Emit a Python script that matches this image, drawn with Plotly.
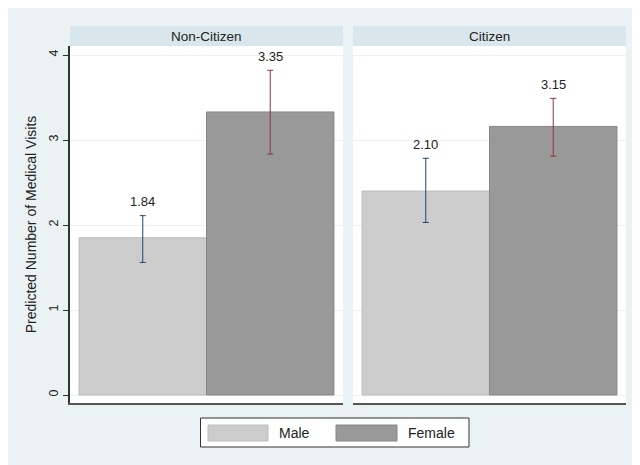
import plotly.graph_objects as go

groups = ["Non-Citizen", "Citizen"]
sexes = ["Male", "Female"]
male_pred = [1.85, 2.40]
female_pred = [3.33, 3.16]
male_lo = [1.56, 2.03]
male_hi = [2.11, 2.785]
female_lo = [2.835, 2.81]
female_hi = [3.82, 3.49]
male_labels = ["1.84", "2.10"]
female_labels = ["3.35", "3.15"]
y_ticks = [0, 1, 2, 3, 4]

BG = "#eaf2f3"
STRIP = "#d9e6eb"
MALE_FILL = "#cccccc"
MALE_EDGE = "#bdbdbd"
FEMALE_FILL = "#999999"
FEMALE_EDGE = "#868686"
MALE_ERR = "#1a476f"
FEMALE_ERR = "#90353b"
FONT = "Liberation Sans, Arial, sans-serif"

fig = go.Figure()
annotations = []
for i, g in enumerate(groups):
    xa = "x" if i == 0 else "x2"
    ya = "y" if i == 0 else "y2"
    for sex, pred, lo, hi, lab, fill, edge, ecol in [
        (sexes[0], male_pred, male_lo, male_hi, male_labels, MALE_FILL, MALE_EDGE, MALE_ERR),
        (sexes[1], female_pred, female_lo, female_hi, female_labels, FEMALE_FILL, FEMALE_EDGE, FEMALE_ERR),
    ]:
        fig.add_trace(go.Bar(
            x=[sex], y=[pred[i]], width=[1.0],
            marker=dict(color=fill, line=dict(color=edge, width=1)),
            error_y=dict(type="data", symmetric=False,
                         array=[hi[i] - pred[i]], arrayminus=[pred[i] - lo[i]],
                         color=ecol, thickness=1, width=3),
            xaxis=xa, yaxis=ya, showlegend=False, name=sex,
        ))
        annotations.append(dict(
            x=sex, y=hi[i], xref=xa, yref=ya, text=lab[i], showarrow=False,
            yshift=14, font=dict(family=FONT, size=13, color="#222222"),
        ))

# Panel strips
dom1 = [0, 273 / 556]
dom2 = [283 / 556, 1]
ytop = 357 / 377
shapes = []
for g, dom in zip(groups, [dom1, dom2]):
    shapes.append(dict(type="rect", xref="paper", yref="paper",
                       x0=dom[0], x1=dom[1], y0=ytop, y1=1,
                       fillcolor=STRIP, line=dict(width=0)))
    annotations.append(dict(x=(dom[0] + dom[1]) / 2, y=(ytop + 1) / 2,
                            xref="paper", yref="paper", text=g, showarrow=False,
                            font=dict(family=FONT, size=13.5, color="#222222"),
                            xanchor="center", yanchor="middle"))

# Manual legend (paper coordinates relative to plot area: x 70..626, y 26..403)
def px_x(px):
    return (px - 70) / 556

def px_y(py):
    return (403 - py) / 377

shapes.append(dict(type="rect", xref="paper", yref="paper",
                   x0=px_x(200.5), x1=px_x(469), y0=px_y(447), y1=px_y(418),
                   fillcolor="white", line=dict(color="#333333", width=1)))
for sex, x0, x1, fill, edge, tx in [
    (sexes[0], 208, 268, MALE_FILL, MALE_EDGE, 277),
    (sexes[1], 336, 397, FEMALE_FILL, FEMALE_EDGE, 406),
]:
    shapes.append(dict(type="rect", xref="paper", yref="paper",
                       x0=px_x(x0), x1=px_x(x1), y0=px_y(441), y1=px_y(425),
                       fillcolor=fill, line=dict(color=edge, width=1)))
    annotations.append(dict(x=px_x(tx), y=px_y(433), xref="paper", yref="paper",
                            text=sex, showarrow=False, xanchor="left", yanchor="middle",
                            font=dict(family=FONT, size=14, color="#222222")))

yrange = [-0.094, 4.106]
xrange = [-0.571, 1.571]
fig.update_layout(
    width=632, height=457,
    margin=dict(l=62, r=14, t=18, b=62),
    paper_bgcolor=BG, plot_bgcolor="white",
    barmode="overlay",
    font=dict(family=FONT, size=12, color="#222222"),
    shapes=shapes, annotations=annotations,
    xaxis=dict(domain=dom1, range=xrange, showticklabels=False, ticks="",
               showgrid=False, showline=True, linecolor="#555555", linewidth=2,
               zeroline=False),
    xaxis2=dict(domain=dom2, range=xrange, showticklabels=False, ticks="",
                showgrid=False, showline=True, linecolor="#555555", linewidth=2,
                zeroline=False, anchor="y2"),
    yaxis=dict(domain=[0, ytop], range=yrange, tickvals=y_ticks, ticks="outside",
               ticklen=5, tickcolor="#333333", tickangle=-90,
               showline=True, linecolor="#333333", linewidth=2,
               showgrid=True, gridcolor=BG, gridwidth=1, zeroline=False,
               tickfont=dict(family=FONT, size=12.5, color="#222222"),
               title=dict(text="Predicted Number of Medical Visits", standoff=7,
                          font=dict(family=FONT, size=14, color="#222222"))),
    yaxis2=dict(domain=[0, ytop], range=yrange, tickvals=y_ticks, anchor="x2",
                showticklabels=False, ticks="", showline=False,
                showgrid=True, gridcolor=BG, gridwidth=1, zeroline=False),
)

fig.write_html("out.html")
